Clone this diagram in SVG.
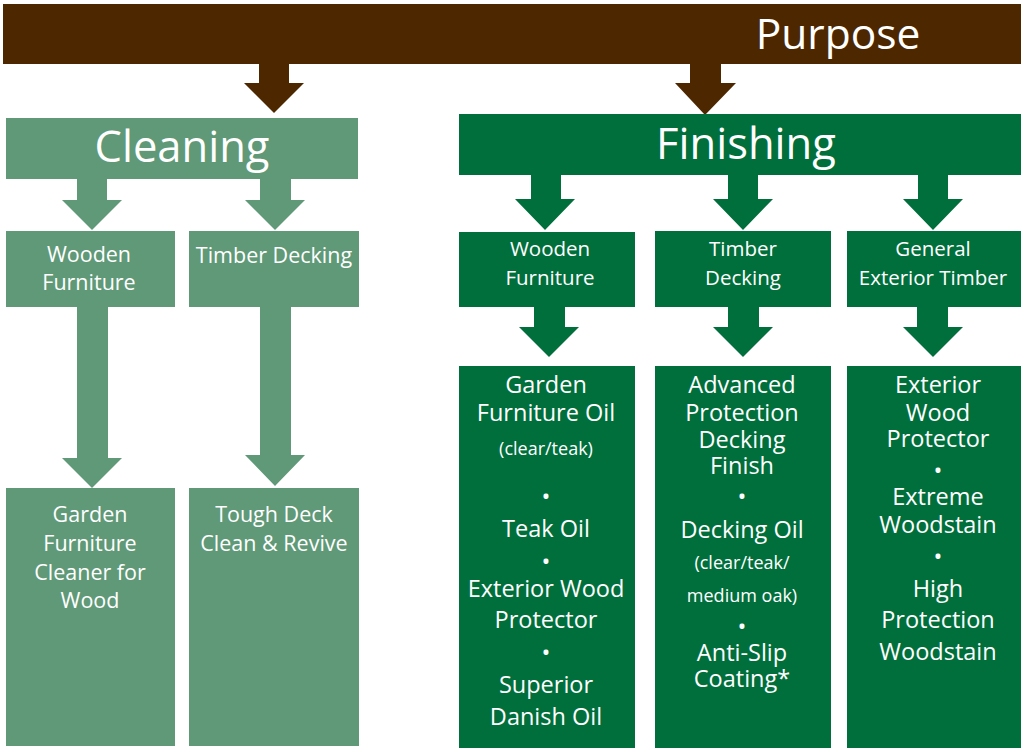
<svg xmlns="http://www.w3.org/2000/svg" width="1021" height="749" viewBox="0 0 1021 749">
<style>
text{font-family:"Open Sans","Noto Sans","Liberation Sans",sans-serif;fill:#ffffff;text-anchor:middle}
.big{font-size:43.5px}
.mid{font-size:21.5px}
.mid2{font-size:20.5px}
.it{font-size:23.5px}
.sm{font-size:18px}
.brown{fill:#4D2700}
.lg{fill:#5F9977}
.dg{fill:#006F3C}
</style>
<rect width="1021" height="749" fill="#ffffff"/>
<g id="connectors">
<polygon class="brown" points="259,63 289,63 289,83 304,83 274,113 244,83 259,83"/>
<polygon class="brown" points="690,63 721,63 721,83 736,83 705,115 675,83 690,83"/>
<polygon class="lg" points="77,178 107,178 107,200 122,200 92,230 62,200 77,200"/>
<polygon class="lg" points="260,178 291,178 291,200 305,200 275,230 245,200 260,200"/>
<polygon class="dg" points="531,174 561,174 561,199 575,199 545,230 515,199 531,199"/>
<polygon class="dg" points="728,174 758,174 758,199 773,199 743,230 713,199 728,199"/>
<polygon class="dg" points="918,174 948,174 948,199 963,199 933,230 903,199 918,199"/>
<polygon class="lg" points="77,306 108,306 108,458 122,458 92,488 62,458 77,458"/>
<polygon class="lg" points="260,306 291,306 291,455 305,455 275,486 245,455 260,455"/>
<polygon class="dg" points="534,307 565,307 565,327 579,327 549,357 519,327 534,327"/>
<polygon class="dg" points="728,306 759,306 759,327 773,327 743,357 713,327 728,327"/>
<polygon class="dg" points="917,306 948,306 948,327 963,327 933,357 903,327 917,327"/>
</g>
<g id="purpose">
<rect class="brown" x="3" y="4" width="1018" height="60"/>
<text class="big" x="838" y="49" style="font-size:42.5px">Purpose</text>
</g>
<g id="cleaning">
<rect class="lg" x="6" y="118" width="352" height="61"/>
<text class="big" x="182" y="162">Cleaning</text>
</g>
<g id="finishing">
<rect class="dg" x="459" y="114" width="562" height="61"/>
<text class="big" x="746" y="159">Finishing</text>
</g>
<g id="c-wooden">
<rect class="lg" x="6" y="231" width="169" height="76"/>
<text class="mid" x="89" y="262">Wooden</text>
<text class="mid" x="89" y="290">Furniture</text>
</g>
<g id="c-timber">
<rect class="lg" x="189" y="231" width="170" height="76"/>
<text class="mid" x="274" y="263">Timber Decking</text>
</g>
<g id="c-cleaner">
<rect class="lg" x="6" y="488" width="169" height="258"/>
<text class="mid" x="90" y="522">Garden</text>
<text class="mid" x="90" y="551">Furniture</text>
<text class="mid" x="90" y="580">Cleaner for</text>
<text class="mid" x="90" y="608">Wood</text>
</g>
<g id="c-tough">
<rect class="lg" x="189" y="488" width="170" height="258"/>
<text class="mid" x="274" y="522">Tough Deck</text>
<text class="mid" x="274" y="551">Clean &amp; Revive</text>
</g>
<g id="f-wooden">
<rect class="dg" x="459" y="232" width="176" height="75"/>
<text class="mid2" x="550" y="256">Wooden</text>
<text class="mid2" x="550" y="285">Furniture</text>
</g>
<g id="f-timber">
<rect class="dg" x="655" y="231" width="176" height="76"/>
<text class="mid2" x="743" y="256">Timber</text>
<text class="mid2" x="743" y="285">Decking</text>
</g>
<g id="f-general">
<rect class="dg" x="847" y="231" width="174" height="76"/>
<text class="mid2" x="933" y="256">General</text>
<text class="mid2" x="933" y="285">Exterior Timber</text>
</g>
<g id="f-oils">
<rect class="dg" x="459" y="366" width="176" height="382"/>
<text class="it" x="546" y="393">Garden</text>
<text class="it" x="546" y="421">Furniture Oil</text>
<text class="sm" x="546" y="455">(clear/teak)</text>
<text class="it" x="546" y="505">•</text>
<text class="it" x="546" y="537">Teak Oil</text>
<text class="it" x="546" y="570">•</text>
<text class="it" x="546" y="597">Exterior Wood</text>
<text class="it" x="546" y="628">Protector</text>
<text class="it" x="546" y="661">•</text>
<text class="it" x="546" y="693">Superior</text>
<text class="it" x="546" y="725">Danish Oil</text>
</g>
<g id="f-decking">
<rect class="dg" x="655" y="366" width="176" height="382"/>
<text class="it" x="742" y="393">Advanced</text>
<text class="it" x="742" y="421">Protection</text>
<text class="it" x="742" y="448">Decking</text>
<text class="it" x="742" y="474">Finish</text>
<text class="it" x="742" y="505">•</text>
<text class="it" x="742" y="538">Decking Oil</text>
<text class="sm" x="742" y="569">(clear/teak/</text>
<text class="sm" x="742" y="602">medium oak)</text>
<text class="it" x="742" y="635">•</text>
<text class="it" x="742" y="661">Anti-Slip</text>
<text class="it" x="742" y="687">Coating*</text>
</g>
<g id="f-exterior">
<rect class="dg" x="847" y="366" width="174" height="382"/>
<text class="it" x="938" y="393">Exterior</text>
<text class="it" x="938" y="421">Wood</text>
<text class="it" x="938" y="447">Protector</text>
<text class="it" x="938" y="479">•</text>
<text class="it" x="938" y="505">Extreme</text>
<text class="it" x="938" y="533">Woodstain</text>
<text class="it" x="938" y="565">•</text>
<text class="it" x="938" y="597">High</text>
<text class="it" x="938" y="628">Protection</text>
<text class="it" x="938" y="660">Woodstain</text>
</g>
</svg>
